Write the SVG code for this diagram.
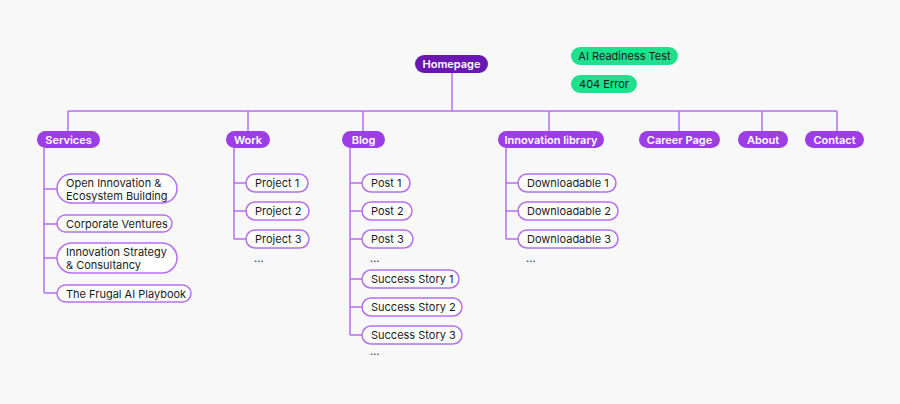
<svg xmlns="http://www.w3.org/2000/svg" width="900" height="404" viewBox="0 0 900 404">
<style>
text{font-family:Inter,"Noto Sans",sans-serif;font-size:11px;dominant-baseline:central}
.p rect{fill:#9d3de6}
.p text{fill:#fff;font-weight:600;text-anchor:middle}
.h rect{fill:#6a16b0}
.g rect{fill:#1fe08c}
.g text{fill:#1a1a1a;text-anchor:middle}
.c rect{fill:#fff;stroke:#b56ef2;stroke-width:1.5}
.c text{fill:#1a1a1a}
.d{fill:#333}
#conn path{fill:none;stroke:#b56ef2;stroke-width:1.5}
</style>
<rect width="900" height="404" fill="#f8f8f8"/>
<g id="conn">
<path d="M452 73V111M68 111H837M68 111V131M248 111V131M363 111V131M549 111V131M679 111V131M762 111V131M837 111V131"/>
<path d="M44 148V293M44 189H57M44 224H57M44 258H57M44 293H57"/>
<path d="M234 148V239M234 183H246M234 211H246M234 239H246"/>
<path d="M350 148V335M350 183H362M350 211H362M350 239H362M350 279H362M350 307H362M350 335H362"/>
<path d="M506 148V239M506 183H518M506 211H518M506 239H518"/>
</g>
<g id="homepage" class="p h"><rect x="415" y="55" width="73" height="18" rx="9"/><text x="451.5" y="64">Homepage</text></g>
<g id="ai" class="g"><rect x="571" y="47" width="107" height="18" rx="9"/><text x="624.5" y="56">AI Readiness Test</text></g>
<g id="e404" class="g"><rect x="571" y="75" width="66" height="18" rx="9"/><text x="604" y="84">404 Error</text></g>
<g id="services" class="p"><rect x="37" y="131" width="63" height="17" rx="8.5"/><text x="68.5" y="139.5">Services</text></g>
<g id="work" class="p"><rect x="226" y="131" width="44" height="17" rx="8.5"/><text x="248" y="139.5">Work</text></g>
<g id="blog" class="p"><rect x="342" y="131" width="43" height="17" rx="8.5"/><text x="363.5" y="139.5">Blog</text></g>
<g id="innov" class="p"><rect x="498" y="131" width="106" height="17" rx="8.5"/><text x="551" y="139.5">Innovation library</text></g>
<g id="career" class="p"><rect x="639" y="131" width="81" height="17" rx="8.5"/><text x="679.5" y="139.5">Career Page</text></g>
<g id="about" class="p"><rect x="738" y="131" width="50" height="17" rx="8.5"/><text x="763" y="139.5">About</text></g>
<g id="contact" class="p"><rect x="805" y="131" width="59" height="17" rx="8.5"/><text x="834.5" y="139.5">Contact</text></g>
<g id="s1" class="c"><rect x="57" y="174" width="120" height="29" rx="14.5"/><text x="66" y="182.5">Open Innovation &amp;</text><text x="66" y="195.5">Ecosystem Building</text></g>
<g id="s2" class="c"><rect x="57" y="215" width="115" height="17" rx="8.5"/><text x="66" y="223.5">Corporate Ventures</text></g>
<g id="s3" class="c"><rect x="57" y="243" width="120" height="30" rx="15"/><text x="66" y="252">Innovation Strategy</text><text x="66" y="265">&amp; Consultancy</text></g>
<g id="s4" class="c"><rect x="57" y="285" width="134" height="17" rx="8.5"/><text x="66" y="293.5">The Frugal AI Playbook</text></g>
<g id="w1" class="c"><rect x="246" y="174" width="62" height="18" rx="9"/><text x="255" y="183">Project 1</text></g>
<g id="w2" class="c"><rect x="246" y="202" width="63" height="18" rx="9"/><text x="255" y="211">Project 2</text></g>
<g id="w3" class="c"><rect x="246" y="230" width="63" height="18" rx="9"/><text x="255" y="239">Project 3</text></g>
<text class="d" x="254" y="258">…</text>
<g id="b1" class="c"><rect x="362" y="174" width="48" height="18" rx="9"/><text x="371" y="183">Post 1</text></g>
<g id="b2" class="c"><rect x="362" y="202" width="50" height="18" rx="9"/><text x="371" y="211">Post 2</text></g>
<g id="b3" class="c"><rect x="362" y="230" width="51" height="18" rx="9"/><text x="371" y="239">Post 3</text></g>
<text class="d" x="370" y="258">…</text>
<g id="b4" class="c"><rect x="362" y="270" width="97" height="18" rx="9"/><text x="371" y="279">Success Story 1</text></g>
<g id="b5" class="c"><rect x="362" y="298" width="100" height="18" rx="9"/><text x="371" y="307">Success Story 2</text></g>
<g id="b6" class="c"><rect x="362" y="326" width="100" height="18" rx="9"/><text x="371" y="335">Success Story 3</text></g>
<text class="d" x="370" y="351">…</text>
<g id="d1" class="c"><rect x="518" y="174" width="98" height="18" rx="9"/><text x="527" y="183">Downloadable 1</text></g>
<g id="d2" class="c"><rect x="518" y="202" width="100" height="18" rx="9"/><text x="527" y="211">Downloadable 2</text></g>
<g id="d3" class="c"><rect x="518" y="230" width="100" height="18" rx="9"/><text x="527" y="239">Downloadable 3</text></g>
<text class="d" x="526" y="258">…</text>
</svg>
